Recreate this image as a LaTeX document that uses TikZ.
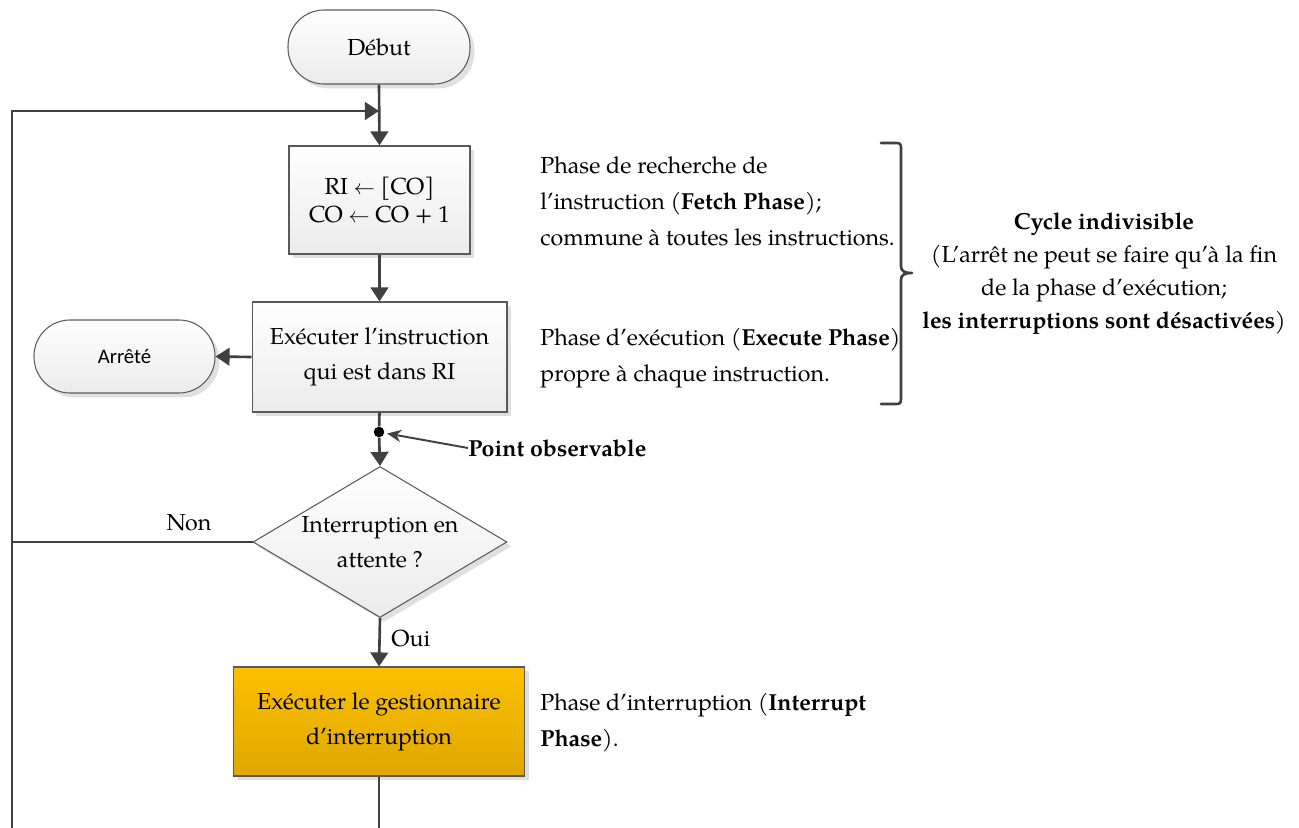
\documentclass[tikz,border=0pt]{standalone}
\usepackage{fontspec}
\setmainfont{texgyrepagella}[Extension=.otf,UprightFont=*-regular,BoldFont=*-bold,ItalicFont=*-italic,BoldItalicFont=*-bolditalic]
\newfontfamily\calib{Carlito}
\usetikzlibrary{arrows.meta,shapes.geometric,shadows}
\definecolor{ln}{HTML}{404040}
\definecolor{bd}{HTML}{5A5A5A}
\definecolor{orT}{HTML}{FCC000}
\definecolor{orB}{HTML}{DFA800}
\definecolor{gB}{HTML}{EBEBEB}
\begin{document}
\begin{tikzpicture}[x=0.02cm,y=-0.02cm,
  conn/.style={draw=ln, line width=1.5pt},
  arr/.style={conn, -{Triangle[width=10pt,length=8pt]}},
  shad/.style={drop shadow={shadow xshift=2.5pt, shadow yshift=-2.5pt, fill=black!20, opacity=0.6}},
  gbox/.style={draw=bd, line width=0.6pt, top color=white, bottom color=gB, shad, inner sep=0pt, align=center},
  obox/.style={draw=bd, line width=0.6pt, top color=orT, bottom color=orB, shad, inner sep=0pt, align=center},
  term/.style={gbox, rounded corners=0.72cm},
  txt/.style={inner sep=0pt, font=\fontsize{13.2}{20.5}\selectfont},
]
\useasboundingbox (0,0) rectangle (1299,828);

% nodes
\node[term, minimum width=3.64cm, minimum height=1.48cm, font=\fontsize{13.2}{15}\selectfont] (debut) at (379,47) {Début};
\node[gbox, minimum width=3.62cm, minimum height=2.16cm, font=\fontsize{13.2}{16}\selectfont] (b1) at (379.5,200) {RI $\leftarrow$ [CO]\\CO $\leftarrow$ CO + 1};
\node[gbox, minimum width=5.1cm, minimum height=2.2cm, font=\fontsize{13.2}{20}\selectfont] (b2) at (379.5,357) {Exécuter l’instruction\\qui est dans RI};
\node[term, minimum width=3.62cm, minimum height=1.46cm, font=\calib\fontsize{11.8}{13}\selectfont] (stop) at (124.5,356.5) {Arrêté};
\node[diamond, gbox, aspect=1.68, minimum width=5.08cm, minimum height=3.02cm] (dec) at (380,542) {};
\node[align=center, inner sep=0pt, font=\fontsize{13.2}{20}\selectfont] (dect) at (dec) {Interruption en\\attente ?};
\node[obox, minimum width=5.82cm, minimum height=2.18cm, font=\fontsize{13.2}{20}\selectfont] (b3) at (379,721.5) {Exécuter le gestionnaire\\d’interruption};
\node[circle, fill=black, inner sep=0pt, minimum size=6pt] (dot) at (379,432) {};

% labels
\node[txt, anchor=west, font=\bfseries\fontsize{13.2}{15}\selectfont] (pobs) at (468,448) {Point observable};
\node[txt, anchor=center] (non) at (189,523) {Non};
\node[txt, anchor=west] (oui) at (391,639) {Oui};

\node[txt, anchor=west, align=left] (fetch) at (540,201) {Phase de recherche de\\l’instruction (\textbf{Fetch Phase});\\commune à toutes les instructions.};
\node[txt, anchor=west, align=left] (exec) at (540,358) {Phase d’exécution (\textbf{Execute Phase})\\propre à chaque instruction.};
\node[txt, anchor=west, align=left] (intr) at (540,722.5) {Phase d’interruption (\textbf{Interrupt}\\\textbf{Phase}).};
\node[txt, align=center, font=\fontsize{13.2}{18.8}\selectfont] (cycle) at (1104,274) {\textbf{Cycle indivisible}\\(L’arrêt ne peut se faire qu’à la fin\\de la phase d’exécution;\\\textbf{les interruptions sont désactivées})};

% coordinates for loop
\coordinate (jn) at (379,111);
\coordinate (lt) at (12,111);
\coordinate (lb) at (12,830);
\coordinate (rb) at (379,830);

% connectors
\draw[arr] (debut.south) -- (b1.north);
\draw[arr] (lb) -- (lt) -- (jn);
\draw[arr] (b1.south) -- (b2.north);
\draw[arr] (b2.west) -- (stop.east);
\draw[conn] (b2.south) -- (dot);
\draw[arr] (dot) -- (dec.north);
\draw[arr] (dec.south) -- (b3.north);
\draw[conn] (dec.west) -- (dec.west -| lt);
\draw[conn] (b3.south) -- (rb);
\draw[draw=ln, line width=1.1pt, -{Stealth[width=7pt,length=8pt]}, shorten >=1.5pt] (pobs.west) -- (dot);

% brace
\draw[draw=ln, line width=1.5pt, line cap=round, line join=round]
  (881,143) -- (896,143) .. controls (900,143) and (901,144) .. (901,148)
  -- (901,266) .. controls (901,271) and (904,273) .. (912,273)
  .. controls (904,273) and (901,275) .. (901,280)
  -- (901,399) .. controls (901,403) and (900,404) .. (896,404) -- (881,404);
\end{tikzpicture}
\end{document}
